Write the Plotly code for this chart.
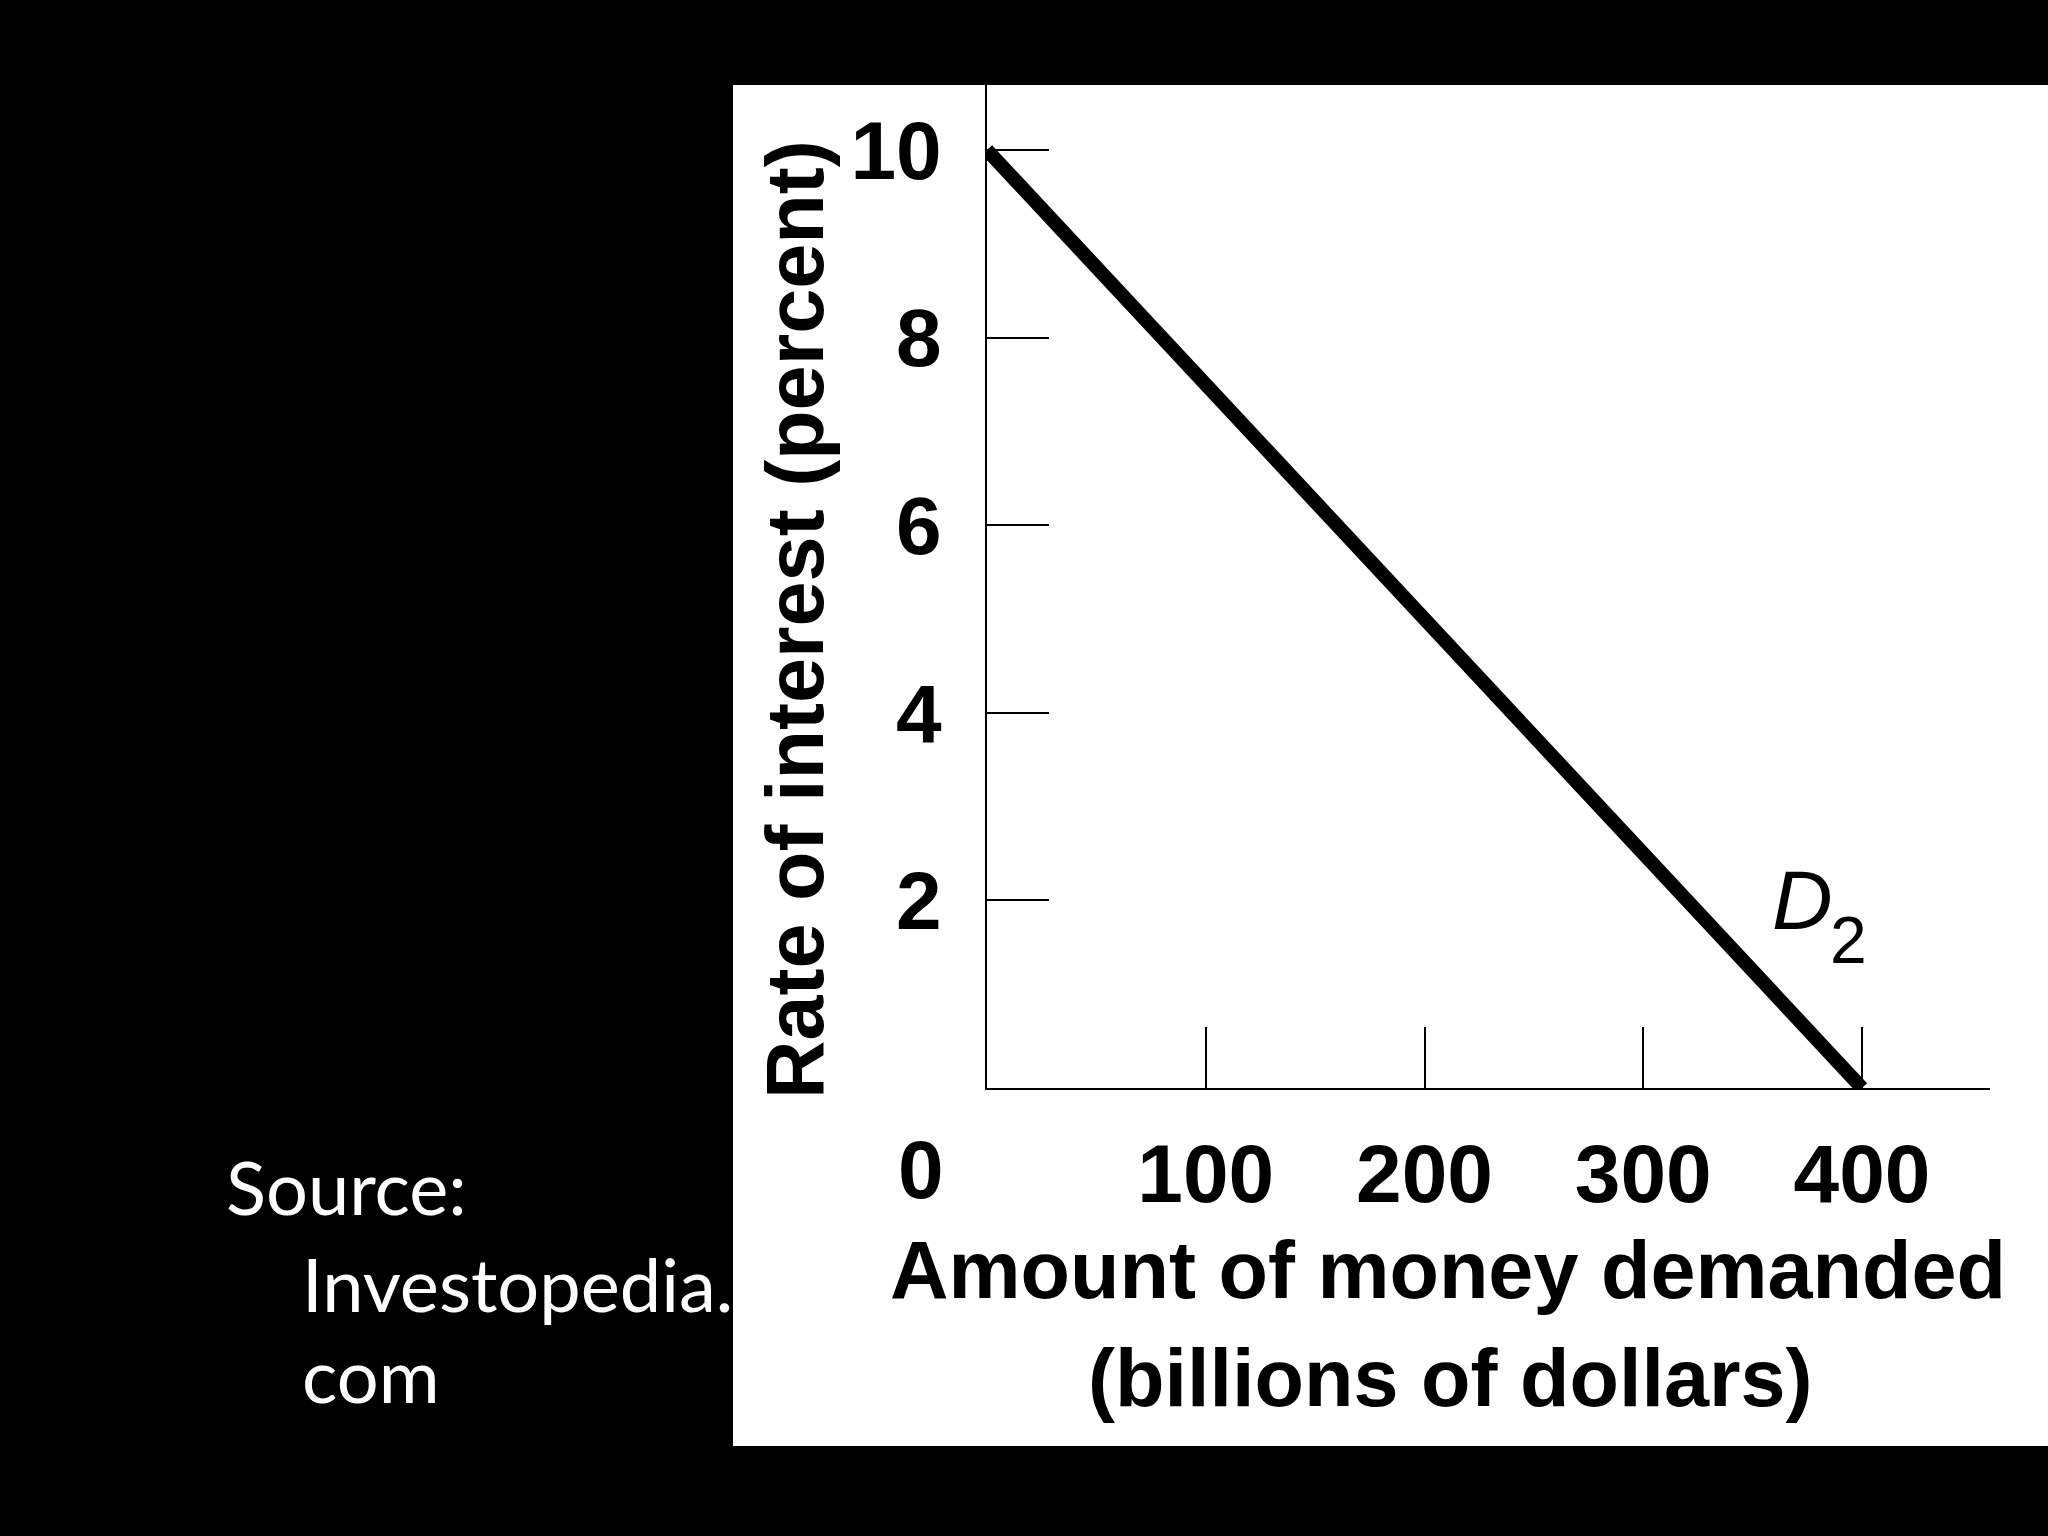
import plotly.graph_objects as go

# Demand for money (D2)
amount = [0, 400]          # billions of dollars
rate = [10, 0]             # percent

x_ticks = [100, 200, 300, 400]
y_ticks = [2, 4, 6, 8, 10]

# Pixel layout of the original slide (2048x1536)
W, H = 2048, 1536
L, R, T, B = 987, 1990, 85, 1088


def px(x):
    return (x - L) / (R - L)


def py(y):
    return (B - y) / (B - T)


FONT = "Liberation Sans, Arial, sans-serif"
SRC_FONT = dict(family="Lato, Open Sans, sans-serif", size=74, color="white")
TICK_FONT = dict(family=FONT, size=82, color="black", weight="bold")
TITLE_FONT = dict(family=FONT, size=81, color="black", weight="bold")

fig = go.Figure()

fig.add_trace(go.Scatter(
    x=amount, y=rate,
    mode="lines",
    line=dict(color="black", width=14),
    showlegend=False,
    hoverinfo="skip"
))

# White slide panel behind the graph
fig.add_shape(
    type="rect", xref="paper", yref="paper",
    x0=px(733), x1=px(2060), y0=py(1446), y1=py(T),
    fillcolor="white", line=dict(width=0), layer="below"
)

annotations = [
    # curve label D with subscript 2
    dict(x=373, y=2.0, xref="x", yref="y", text="<i>D</i>",
         showarrow=False, xanchor="center", yanchor="middle",
         font=dict(family=FONT, size=84, color="black")),
    dict(x=373, y=2.0, xref="x", yref="y", text="2",
         showarrow=False, xanchor="center", yanchor="middle",
         xshift=46, yshift=-40,
         font=dict(family=FONT, size=66, color="black")),
    # origin label
    dict(x=0, y=0, xref="x", yref="paper", text="0", showarrow=False,
         xshift=-66, yshift=-81, xanchor="center", yanchor="middle",
         font=TICK_FONT),
    # axis titles
    dict(x=px(795), y=py(620), xref="paper", yref="paper",
         text="Rate of interest (percent)", textangle=-90, showarrow=False,
         xanchor="center", yanchor="middle", font=TITLE_FONT),
    dict(x=px(1448), y=py(1270), xref="paper", yref="paper",
         text="Amount of money demanded", showarrow=False,
         xanchor="center", yanchor="middle", font=TITLE_FONT),
    dict(x=px(1450), y=py(1378), xref="paper", yref="paper",
         text="(billions of dollars)", showarrow=False,
         xanchor="center", yanchor="middle", font=TITLE_FONT),
    # source note
    dict(x=px(224), y=py(1186), xref="paper", yref="paper", text="Source:",
         xanchor="left", yanchor="middle", showarrow=False, font=SRC_FONT),
    dict(x=px(300), y=py(1283), xref="paper", yref="paper", text="Investopedia.",
         xanchor="left", yanchor="middle", showarrow=False, font=SRC_FONT),
    dict(x=px(300), y=py(1374), xref="paper", yref="paper", text="com",
         xanchor="left", yanchor="middle", showarrow=False, font=SRC_FONT),
]

fig.update_layout(
    width=W, height=H,
    paper_bgcolor="black",
    plot_bgcolor="white",
    margin=dict(l=L, r=W - R, t=T, b=H - B, pad=0),
    annotations=annotations,
    xaxis=dict(
        range=[0, (R - L) / 2.1875],
        tickvals=x_ticks,
        ticks="inside", ticklen=61, tickwidth=2, tickcolor="black",
        showline=True, linecolor="black", linewidth=2,
        showgrid=False, zeroline=False,
        tickfont=TICK_FONT,
        ticklabelstandoff=14,
    ),
    yaxis=dict(
        range=[0, (B - T) / 93.8],
        tickvals=y_ticks,
        ticks="inside", ticklen=62, tickwidth=2, tickcolor="black",
        showline=True, linecolor="black", linewidth=2,
        showgrid=False, zeroline=False,
        tickfont=TICK_FONT,
        ticklabelstandoff=27,
    ),
)

fig.write_html(
    "out.html",
    config={"displayModeBar": False},
    post_script="document.body.style.margin='0';document.body.style.background='black';"
)
